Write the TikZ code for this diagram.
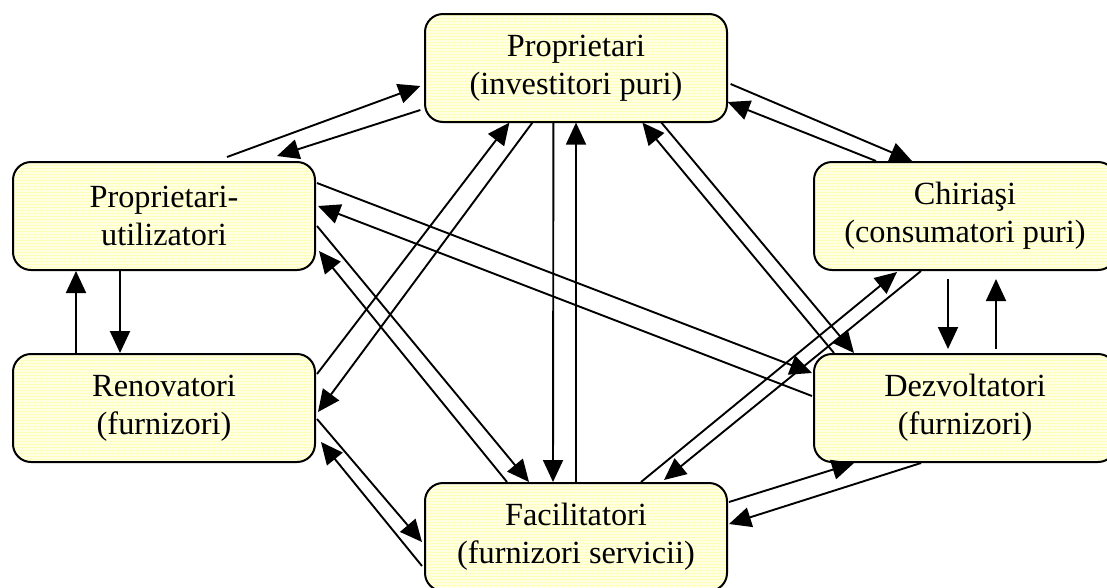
\documentclass[tikz,border=0pt]{standalone}
\usepackage{fontspec}
\setmainfont{Liberation Serif}
\usetikzlibrary{arrows.meta, calc, patterns.meta}
\definecolor{boxfill}{RGB}{255,255,188}
\definecolor{boxstripe}{RGB}{255,255,232}

\begin{document}
\begin{tikzpicture}[
  x=1pt, y=-1pt,
  >={Triangle[length=22pt, width=20pt]},
  actor/.style={rectangle, draw, line width=2pt, rounded corners=18pt,
    minimum width=302pt, minimum height=108pt, inner sep=0pt,
    align=center, font=\fontsize{32.3}{38}\selectfont,
    preaction={fill=boxfill},
    pattern={Lines[angle=0, distance=3pt, line width=1.2pt]},
    pattern color=boxstripe},
  flow/.style={->, line width=1.9pt},
]
\useasboundingbox (0,0) rectangle (1107,587);

% --- Actors ---
\node[actor] (P)  at (576, 68)  {Proprietari\\(investitori puri)};
\node[actor] (PU) at (164, 216) {Proprietari-\\utilizatori};
\node[actor] (C)  at (965, 216) {Chiriaşi\\(consumatori puri)};
\node[actor] (R)  at (164, 408) {Renovatori\\(furnizori)};
\node[actor] (D)  at (965, 408) {Dezvoltatori\\(furnizori)};
\node[actor] (F)  at (576, 537) {Facilitatori\\(furnizori servicii)};

% --- Proprietari <-> Proprietari-utilizatori ---
\draw[flow] ($(PU.north west)+(215,-4)$) -- ($(P.west)+(-4,18)$);
\draw[flow] ($(P.west)+(-4,42)$) -- ($(PU.north west)+(265,-5)$);

% --- Proprietari <-> Chiriasi ---
\draw[flow] ($(P.east)+(3,16)$) -- ($(C.north west)+(99,0)$);
\draw[flow] ($(C.north west)+(63,0)$) -- ($(P.east)+(0,34)$);

% --- vertical pairs ---
\draw[flow] ($(R.north west)+(64,0)$) -- ($(PU.south west)+(64,0)$);
\draw[flow] ($(PU.south west)+(108,0)$) -- ($(R.north west)+(108,0)$);
\draw[flow] ($(C.south west)+(135,8)$) -- ($(D.north west)+(135,-4)$);
\draw[flow] ($(D.north west)+(183,-4)$) -- ($(C.south west)+(183,8)$);
\draw[flow] ($(P.south west)+(129,0)$) -- ($(F.north west)+(129,0)$);
\draw[flow] (F.north) -- (P.south);

% --- Proprietari <-> Renovatori ---
\draw[flow] ($(R.north east)+(1,21)$) -- ($(P.south west)+(85,0)$);
\draw[flow] ($(P.south west)+(108,0)$) -- ($(R.north east)+(2,59)$);

% --- Proprietari-utilizatori <-> Facilitatori ---
\draw[flow] ($(PU.north east)+(1,65)$) -- ($(F.north west)+(105,0)$);
\draw[flow] ($(F.north west)+(83,0)$) -- ($(PU.north east)+(3,90)$);

% --- Proprietari <-> Dezvoltatori ---
\draw[flow] ($(P.south west)+(237,0)$) -- ($(D.north west)+(41,0)$);
\draw[flow] ($(D.north west)+(21,0)$) -- ($(P.south west)+(218,0)$);

% --- Proprietari-utilizatori <-> Dezvoltatori ---
\draw[flow] ($(PU.north east)+(1,22)$) -- ($(D.north west)+(-1,20)$);
\draw[flow] ($(D.north west)+(-1,43)$) -- ($(PU.north east)+(2,45)$);

% --- Facilitatori <-> Chiriasi ---
\draw[flow] ($(F.north west)+(217,0)$) -- ($(C.south west)+(84,1)$);
\draw[flow] ($(C.south west)+(108,0)$) -- ($(F.north west)+(240,-2)$);

% --- Renovatori <-> Facilitatori ---
\draw[flow] ($(R.north east)+(1,66)$) -- ($(F.north west)+(-2,60)$);
\draw[flow] ($(F.north west)+(-2,84)$) -- ($(R.north east)+(5,89)$);

% --- Facilitatori <-> Dezvoltatori ---
\draw[flow] ($(F.north east)+(1,20)$) -- ($(D.south west)+(41,0)$);
\draw[flow] ($(D.south west)+(108,0)$) -- ($(F.north east)+(1,42)$);

\end{tikzpicture}
\end{document}
